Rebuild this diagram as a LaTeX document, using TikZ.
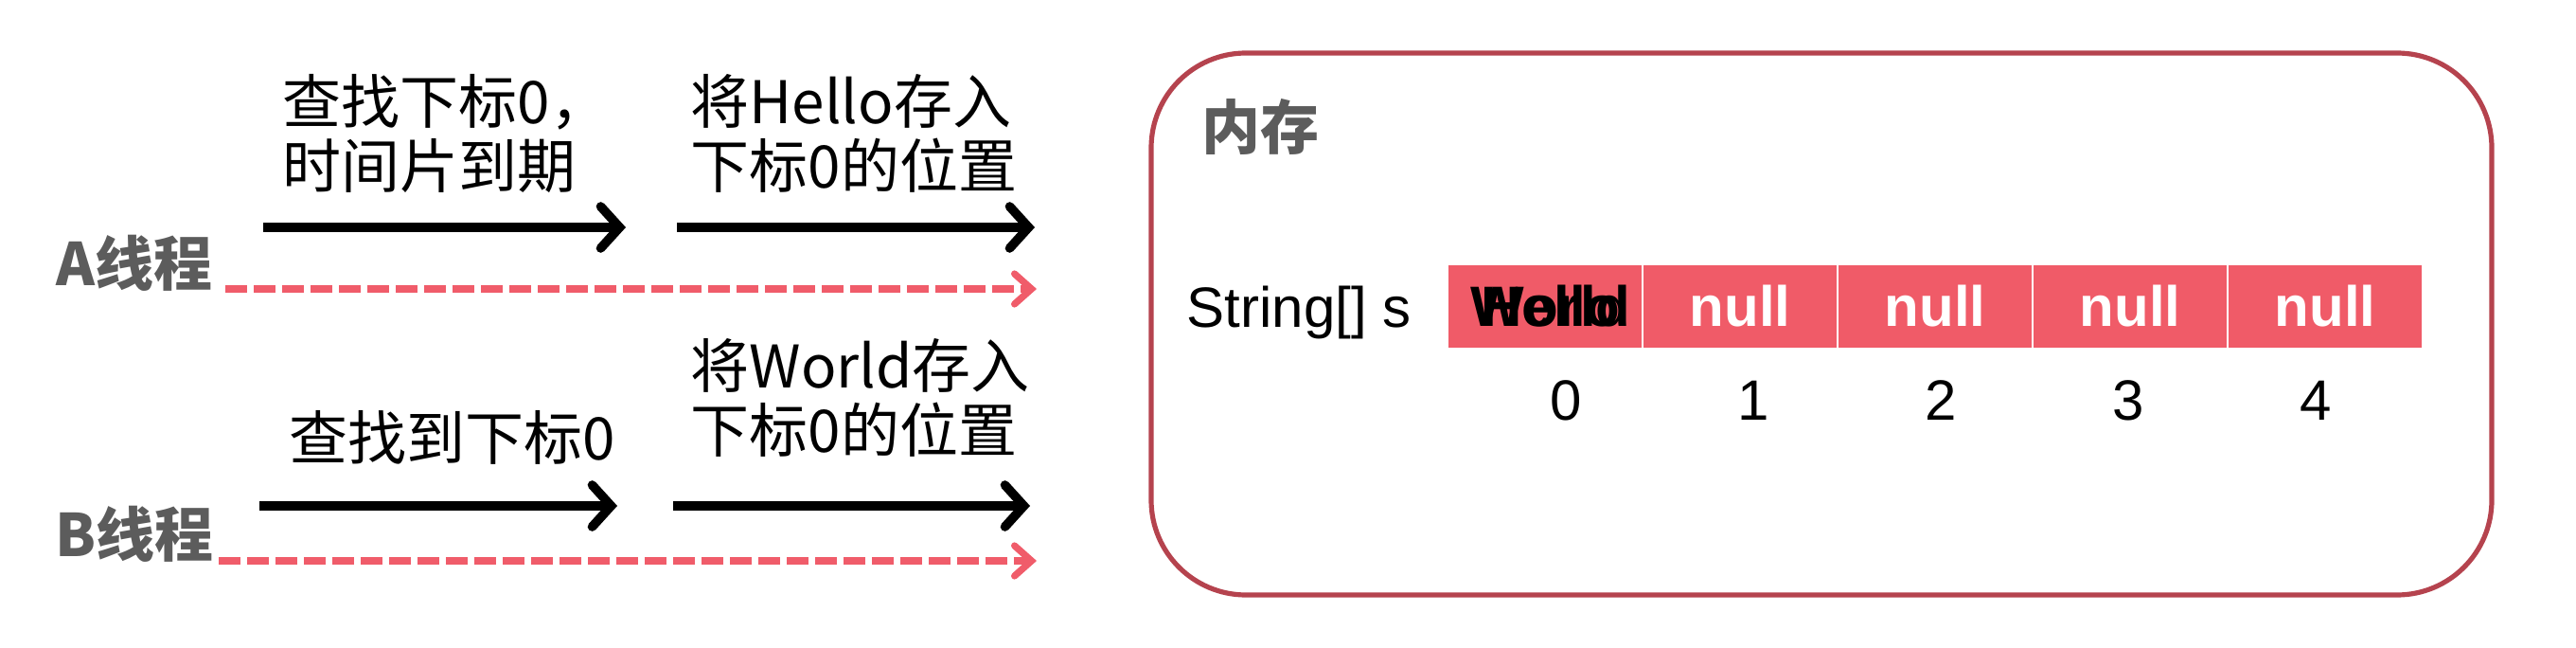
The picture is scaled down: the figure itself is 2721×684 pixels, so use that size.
\documentclass[tikz,border=0pt]{standalone}
\usepackage{fontspec}
\setmainfont{Liberation Sans}
\newfontfamily\cjk{Noto Sans CJK SC}
\usetikzlibrary{arrows.meta}

\definecolor{cellred}{RGB}{240,91,104}
\definecolor{dashred}{RGB}{240,92,106}
\definecolor{boxred}{RGB}{181,67,78}
\definecolor{threadgray}{RGB}{92,92,92}

\tikzset{
  txt/.style={inner sep=0pt, font=\fontsize{15.5}{17}\selectfont},
  cjktxt/.style={txt, align=left, font=\fontsize{15.5}{17}\selectfont\cjk},
  thread/.style={inner sep=0pt, text=threadgray, font=\fontsize{15.5}{17}\selectfont\cjk\bfseries},
  stepline/.style={line width=2.4pt, -{Straight Barb[length=5pt,width=11pt,line cap=round]}},
  timeline/.style={dashred, line width=1.8pt, dash pattern=on 5.75pt off 1.75pt,
    -{Straight Barb[length=4.5pt,width=8pt,line cap=round]}},
  cell/.style={fill=cellred, draw=white, line width=0.6pt, minimum width=51.5pt,
    minimum height=22.5pt, inner sep=0pt},
  nulltxt/.style={txt, text=white, font=\fontsize{15}{17}\selectfont\bfseries}
}

\begin{document}
\begin{tikzpicture}[x=0.25pt,y=-0.25pt]
    \useasboundingbox (0,0) rectangle (2721,684);

    % Thread A
    \node[thread] (athread) at (142,278) {A线程};
    \coordinate (a0) at (238,305);
    \coordinate (a1) at (1095,305);
    \draw[timeline] (a0) -- (a1);
    \coordinate (as0) at (278,240);
    \coordinate (as1) at (661,240);
    \coordinate (as2) at (715,240);
    \coordinate (as3) at (1093,240);
    \draw[stepline] (as0) -- (as1);
    \draw[stepline] (as2) -- (as3);
    \node[cjktxt, anchor=west] (afind) at (298,141) {查找下标0，\\时间片到期};
    \node[cjktxt, anchor=west] (astore) at (729,141) {将Hello存入\\下标0的位置};

    % Thread B
    \node[thread] (bthread) at (142,564) {B线程};
    \coordinate (b0) at (231,592);
    \coordinate (b1) at (1095,592);
    \draw[timeline] (b0) -- (b1);
    \coordinate (bs0) at (274,534);
    \coordinate (bs1) at (652,534);
    \coordinate (bs2) at (711,534);
    \coordinate (bs3) at (1088,534);
    \draw[stepline] (bs0) -- (bs1);
    \draw[stepline] (bs2) -- (bs3);
    \node[cjktxt, anchor=west] (bfind) at (305,462) {查找到下标0};
    \node[cjktxt, anchor=west] (bstore) at (729,420) {将World存入\\下标0的位置};

    % Memory
    \draw[boxred, line width=1.3pt, rounded corners=25pt] (1216,56) rectangle (2632,628);
    \node[thread] (memlabel) at (1331,134) {内存};
    \node[txt, font=\fontsize{15}{17}\selectfont] (arr) at (1372,330) {String[] s};

    % Array cells
    \foreach \i in {0,...,4}
        \node[cell] (cell\i) at (1632+206*\i,323.5) {};
    \foreach \i in {1,...,4}
        \node[nulltxt] at (cell\i) {null};
    \node[txt, font=\fontsize{15}{17}\selectfont\bfseries] (hello) at ([xshift=1.5pt]cell0) {Hello};
    \node[txt, font=\fontsize{15}{17}\selectfont\bfseries] (world) at ([xshift=1.5pt]cell0) {World};

    % Indices
    \foreach \i in {0,...,4}
        \node[txt, font=\fontsize{15}{17}\selectfont] (idx\i) at (1654+198*\i,423) {\i};
\end{tikzpicture}
\end{document}
